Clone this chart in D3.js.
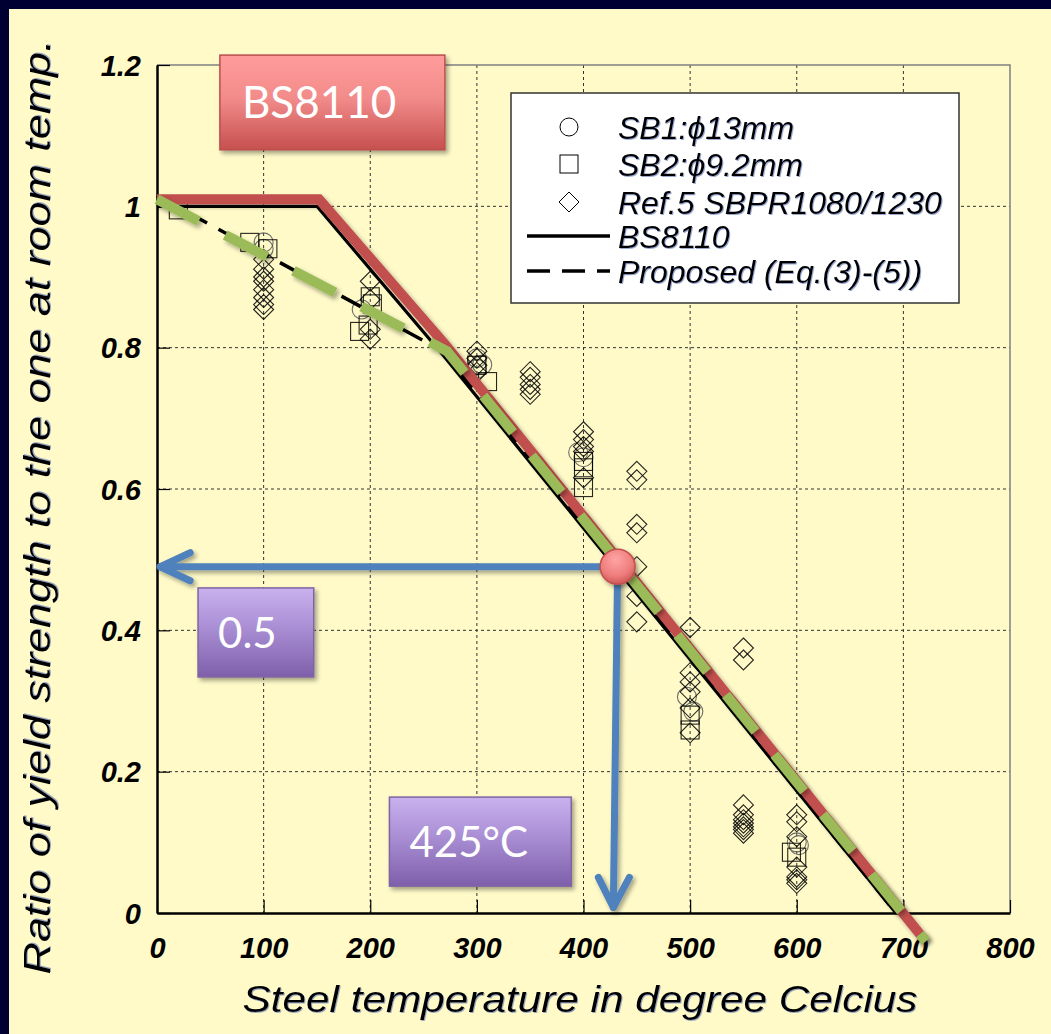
<!DOCTYPE html>
<html><head><meta charset="utf-8">
<script src="https://cdn.jsdelivr.net/npm/d3@7"></script>
<style>
html,body{margin:0;padding:0;background:#000033;}
svg{display:block;}
</style></head>
<body>
<script>
// ---------------- data ----------------
const xTicks = [0,100,200,300,400,500,600,700,800];
const yTicks = [0,0.2,0.4,0.6,0.8,1,1.2];
const yTickLabels = ["0","0.2","0.4","0.6","0.8","1","1.2"];

// SB1: phi13mm (circles)
const sb1 = [[100,0.949],[100,0.940],[192,0.854],[300,0.785],[305,0.776],[300,0.770],
             [395,0.652],[400,0.645],[497,0.306],[503,0.285],[600,0.100],[602,0.096]];
// SB2: phi9.2mm (squares)
const sb2 = [[20,0.995],[87,0.949],[104,0.940],[200,0.872],[202,0.862],[190,0.823],[198,0.832],
             [300,0.775],[310,0.752],[400,0.639],[400,0.630],[400,0.602],
             [500,0.280],[500,0.259],[595,0.086],[600,0.079]];
// Ref.5 SBPR1080/1230 (diamonds)
const ref5 = [[100,0.925],[100,0.911],[100,0.900],[100,0.894],[100,0.882],[100,0.871],[100,0.861],[100,0.854],
              [200,0.894],[200,0.868],[200,0.826],[200,0.812],
              [300,0.795],[300,0.785],[300,0.775],[300,0.765],
              [350,0.766],[350,0.758],[350,0.748],[350,0.741],[350,0.734],
              [400,0.681],[400,0.670],[400,0.660],[400,0.653],[400,0.616],
              [450,0.625],[450,0.613],[450,0.550],[450,0.538],[450,0.490],[450,0.448],[450,0.412],
              [500,0.404],[500,0.340],[500,0.327],[500,0.313],[500,0.290],[500,0.255],
              [550,0.375],[550,0.358],[550,0.153],[550,0.139],[550,0.132],[550,0.127],[550,0.122],[550,0.118],[550,0.113],
              [600,0.139],[600,0.129],[600,0.108],[600,0.065],[600,0.051],[600,0.047],[600,0.042]];
// model lines
const bs8110 = [[0,1],[150,1],[268,0.79],[693,0]];
const proposed = [[0,1.015],[268,0.795],[693,0]];

// presentation overlays (annotation)
const bsHighlight = [[0,1.01],[152,1.01],[270,0.805],[721,-0.04]];
const propHighlight = [[0,1.01],[272,0.795],[721,-0.04]];
const markPoint = [432,0.49];
const hArrowEnd = [3,0.49];
const vArrowEnd = [428,0.008];
const boxBS = {label:"BS8110", x0:59, x1:270, y0:1.214, y1:1.080};
const box05 = {label:"0.5", x0:38.5, x1:147, y0:0.460, y1:0.334};
const box425 = {label:"425°C", x0:218, x1:388.5, y0:0.164, y1:0.038};

const legendItems = [
  {type:"circle", label:"SB1:ϕ13mm"},
  {type:"square", label:"SB2:ϕ9.2mm"},
  {type:"diamond", label:"Ref.5 SBPR1080/1230"},
  {type:"solid", label:"BS8110"},
  {type:"dashed", label:"Proposed (Eq.(3)-(5))"}
];

// ---------------- layout ----------------
const W = 1051, H = 1034;
const svg = d3.select("body").append("svg").attr("width",W).attr("height",H);
const defs = svg.append("defs");

const sh = defs.append("filter").attr("id","shadow").attr("x","-20%").attr("y","-20%").attr("width","160%").attr("height","160%");
sh.append("feDropShadow").attr("dx",2.5).attr("dy",3).attr("stdDeviation",2).attr("flood-color","#000").attr("flood-opacity",0.35);
const tsh = defs.append("filter").attr("id","tshadow");
tsh.append("feDropShadow").attr("dx",1).attr("dy",1).attr("stdDeviation",0.6).attr("flood-color","#5a6fb0").attr("flood-opacity",0.6);

const gRed = defs.append("linearGradient").attr("id","gRed").attr("x1",0).attr("y1",0).attr("x2",0).attr("y2",1);
gRed.append("stop").attr("offset","0%").attr("stop-color","#FF9C9B");
gRed.append("stop").attr("offset","45%").attr("stop-color","#F28C8B");
gRed.append("stop").attr("offset","100%").attr("stop-color","#C6504E");
const gPur = defs.append("linearGradient").attr("id","gPur").attr("x1",0).attr("y1",0).attr("x2",0).attr("y2",1);
gPur.append("stop").attr("offset","0%").attr("stop-color","#C9B1EE");
gPur.append("stop").attr("offset","45%").attr("stop-color","#A98ED4");
gPur.append("stop").attr("offset","100%").attr("stop-color","#7E5FAA");
const gBall = defs.append("radialGradient").attr("id","gBall").attr("cx","45%").attr("cy","30%").attr("r","75%");
gBall.append("stop").attr("offset","0%").attr("stop-color","#FFA4A4");
gBall.append("stop").attr("offset","60%").attr("stop-color","#EE7F7E");
gBall.append("stop").attr("offset","100%").attr("stop-color","#C9504F");

svg.append("rect").attr("width",W).attr("height",H).attr("fill","#000033");
svg.append("rect").attr("x",9).attr("y",9).attr("width",W-9).attr("height",H-9).attr("fill","#FFFAC8");

const x = d3.scaleLinear().domain([0,800]).range([157,1010]);
const y = d3.scaleLinear().domain([0,1.2]).range([913,65]);

const plot = svg.append("g");

// grid
plot.append("g").selectAll("line").data(xTicks.filter(d=>d>0&&d<800)).join("line")
  .attr("x1",d=>x(d)).attr("x2",d=>x(d)).attr("y1",y(1.2)).attr("y2",y(0))
  .attr("stroke","#333").attr("stroke-width",1).attr("stroke-dasharray","3,3");
plot.append("g").selectAll("line").data(yTicks.filter(d=>d>0&&d<1.2)).join("line")
  .attr("y1",d=>y(d)).attr("y2",d=>y(d)).attr("x1",x(0)).attr("x2",x(800))
  .attr("stroke","#333").attr("stroke-width",1).attr("stroke-dasharray","3,3");
// frame top/right
plot.append("path").attr("d",`M${x(0)},${y(1.2)}H${x(800)}V${y(0)}`).attr("fill","none").attr("stroke","#808080").attr("stroke-width",1.5);

// axes
const xAxis = d3.axisBottom(x).tickValues(xTicks).tickSize(-13).tickSizeOuter(0).tickPadding(20);
const yAxis = d3.axisLeft(y).tickValues(yTicks).tickSize(-13).tickSizeOuter(0).tickPadding(16)
  .tickFormat((d,i)=>yTickLabels[i]);
const gx = plot.append("g").attr("transform",`translate(0,${y(0)})`).call(xAxis);
const gy = plot.append("g").attr("transform",`translate(${x(0)},0)`).call(yAxis);
[gx,gy].forEach(g=>{
  g.select(".domain").attr("stroke","#000").attr("stroke-width",2.5);
  g.selectAll(".tick line").attr("stroke","#000").attr("stroke-width",1.2);
  g.selectAll(".tick text").attr("fill","#000").attr("font-family","Liberation Sans, Arial, sans-serif")
    .attr("font-size",29).attr("font-style","italic").attr("font-weight","bold");
});
gx.selectAll(".tick text").attr("dy","0.85em");
gy.selectAll(".tick text").attr("dy","0.35em");

// markers
const mk = plot.append("g").attr("fill","none").attr("stroke","#000").attr("stroke-width",1.1).attr("stroke-opacity",0.85);
mk.selectAll("circle.sb1").data(sb1).join("circle").attr("class","sb1")
  .attr("cx",d=>x(d[0])).attr("cy",d=>y(d[1])).attr("r",9.5).attr("stroke","#555");
mk.selectAll("rect.sb2").data(sb2).join("rect").attr("class","sb2")
  .attr("x",d=>x(d[0])-9).attr("y",d=>y(d[1])-9).attr("width",18).attr("height",18);
mk.selectAll("path.ref5").data(ref5).join("path").attr("class","ref5")
  .attr("d",d=>{const cx=x(d[0]), cy=y(d[1]); return `M${cx},${cy-10}L${cx+10},${cy}L${cx},${cy+10}L${cx-10},${cy}Z`;});

// model lines
const line = d3.line().x(d=>x(d[0])).y(d=>y(d[1]));
plot.append("path").datum(bs8110).attr("d",line).attr("fill","none").attr("stroke","#000").attr("stroke-width",3.2);
plot.append("path").datum(proposed).attr("d",line).attr("fill","none").attr("stroke","#000").attr("stroke-width",3.5).attr("stroke-dasharray","22,13");

// highlight overlays
const ov = svg.append("g");
ov.append("path").datum(bsHighlight).attr("d",line).attr("fill","none").attr("stroke","#C0504D")
  .attr("stroke-width",10).attr("stroke-linejoin","miter").attr("filter","url(#shadow)");
ov.append("path").datum(propHighlight).attr("d",line).attr("fill","none").attr("stroke","#9BBB59")
  .attr("stroke-width",10).attr("stroke-dasharray","47,30").attr("filter","url(#shadow)");

// blue arrows
const blue = "#4F81BD";
const ar = svg.append("g").attr("stroke",blue).attr("stroke-width",7).attr("fill","none").attr("stroke-linecap","round").attr("stroke-linejoin","round").attr("filter","url(#shadow)");
const hx = x(hArrowEnd[0]), hy = y(hArrowEnd[1]);
ar.append("path").attr("d",`M${x(markPoint[0])},${y(markPoint[1])}L${hx},${hy}`);
ar.append("path").attr("d",`M${hx+30},${hy-14}L${hx},${hy}L${hx+30},${hy+14}`);
const vx = x(vArrowEnd[0]), vy = y(vArrowEnd[1]);
ar.append("path").attr("d",`M${x(markPoint[0])},${y(markPoint[1])}L${vx},${vy}`);
ar.append("path").attr("d",`M${vx-15},${vy-30}L${vx},${vy}L${vx+16},${vy-30}`);

svg.append("circle").attr("cx",x(markPoint[0])).attr("cy",y(markPoint[1])).attr("r",17.5)
  .attr("fill","url(#gBall)").attr("stroke","#C0504D").attr("stroke-width",1.5).attr("filter","url(#shadow)");

// label boxes
function labelBox(b, fill, stroke, fs, tx){
  const g = svg.append("g");
  g.append("rect").attr("x",x(b.x0)).attr("y",y(b.y0)).attr("width",x(b.x1)-x(b.x0)).attr("height",y(b.y1)-y(b.y0))
    .attr("fill",fill).attr("stroke",stroke).attr("stroke-width",1.5).attr("filter","url(#shadow)");
  g.append("text").attr("x",x(b.x0)+tx).attr("y",(y(b.y0)+y(b.y1))/2).attr("dy","0.36em")
    .attr("fill","#fff").attr("font-family","Lato, 'Open Sans', sans-serif").attr("font-size",fs).text(b.label);
}
labelBox(boxBS,"url(#gRed)","#B9504E",44,22);
labelBox(box05,"url(#gPur)","#8064A2",42,20);
labelBox(box425,"url(#gPur)","#8064A2",42,20);

// legend
const lg = svg.append("g");
lg.append("rect").attr("x",511).attr("y",93).attr("width",448).attr("height",210).attr("fill","#fff").attr("stroke","#333").attr("stroke-width",1.5);
const rowY = [127,164,202,236,271];
legendItems.forEach((it,i)=>{
  const cy = rowY[i], cx = 569;
  if(it.type==="circle") lg.append("circle").attr("cx",cx).attr("cy",cy).attr("r",9).attr("fill","none").attr("stroke","#000").attr("stroke-width",1);
  if(it.type==="square") lg.append("rect").attr("x",cx-9).attr("y",cy-9).attr("width",18).attr("height",18).attr("fill","none").attr("stroke","#000").attr("stroke-width",1);
  if(it.type==="diamond") lg.append("path").attr("d",`M${cx},${cy-10}L${cx+10},${cy}L${cx},${cy+10}L${cx-10},${cy}Z`).attr("fill","none").attr("stroke","#000").attr("stroke-width",1);
  if(it.type==="solid") lg.append("line").attr("x1",527).attr("x2",610).attr("y1",cy).attr("y2",cy).attr("stroke","#000").attr("stroke-width",3.5);
  if(it.type==="dashed") lg.append("line").attr("x1",527).attr("x2",610).attr("y1",cy).attr("y2",cy).attr("stroke","#000").attr("stroke-width",3.5).attr("stroke-dasharray","23,12");
  lg.append("text").attr("x",618).attr("y",cy).attr("dy","0.36em").attr("font-family","Liberation Sans, Arial, sans-serif")
    .attr("font-size",32).attr("font-style","italic").attr("fill","#000").attr("filter","url(#tshadow)").text(it.label);
});

// axis titles
svg.append("text").attr("transform",`translate(50,${507}) rotate(-90)`).attr("text-anchor","middle")
  .attr("font-family","Liberation Sans, Arial, sans-serif").attr("font-size",36).attr("font-style","italic")
  .attr("textLength",935).attr("lengthAdjust","spacingAndGlyphs").attr("filter","url(#tshadow)")
  .text("Ratio of yield strength to the one at room temp.");
svg.append("text").attr("x",580).attr("y",1012).attr("text-anchor","middle")
  .attr("font-family","Liberation Sans, Arial, sans-serif").attr("font-size",37).attr("font-style","italic")
  .attr("textLength",675).attr("lengthAdjust","spacingAndGlyphs").attr("filter","url(#tshadow)")
  .text("Steel temperature in degree Celcius");
</script>
</body></html>
